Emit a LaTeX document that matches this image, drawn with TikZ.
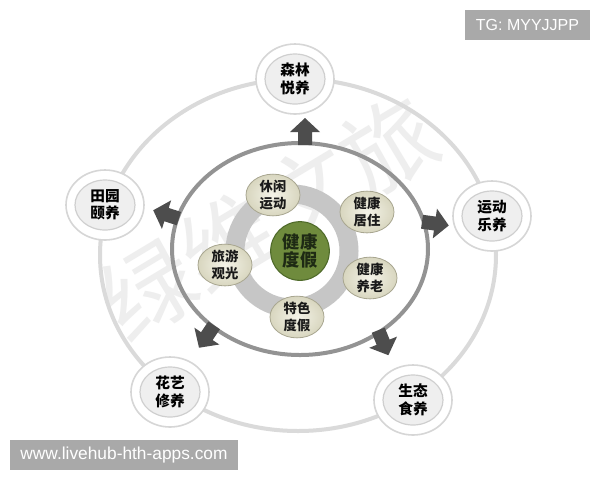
\documentclass[tikz,border=0pt]{standalone}
\usepackage{fontspec}
\setmainfont{Liberation Sans}
\newfontfamily\cjk{Noto Sans CJK SC}
\usetikzlibrary{shapes.geometric}
\definecolor{bigring}{HTML}{DADADA}
\definecolor{satline}{HTML}{D6D6D6}
\definecolor{satinline}{HTML}{CFCFCF}
\definecolor{satfill}{HTML}{EFEFEF}
\definecolor{midline}{HTML}{939393}
\definecolor{ringgray}{HTML}{C6C6C6}
\definecolor{leafline}{HTML}{A8A690}
\definecolor{leafin}{HTML}{F4F3E8}
\definecolor{leafout}{HTML}{D8D6BF}
\definecolor{leaftext}{HTML}{1A1A1A}
\definecolor{hubfill}{HTML}{6F8B3D}
\definecolor{hubline}{HTML}{4F6A2A}
\definecolor{hubtext}{HTML}{1E2A14}
\definecolor{arrowc}{HTML}{4D4D4D}
\definecolor{tagfill}{HTML}{A9A9A9}
\definecolor{wmark}{HTML}{EEEEEE}
\begin{document}
\begin{tikzpicture}[x=0.75pt,y=-0.75pt,
  satout/.style={ellipse, draw=satline, line width=1.2pt, fill=white, minimum width=58.5pt, minimum height=52.5pt, inner sep=0pt},
  satin/.style={ellipse, draw=satinline, line width=0.9pt, fill=satfill, minimum width=45pt, minimum height=37.5pt, inner sep=0pt, align=center, font=\cjk\bfseries\fontsize{11}{13}\selectfont},
  leaf/.style={ellipse, draw=leafline, line width=0.6pt, shading=radial, inner color=leafin, outer color=leafout, minimum width=40.5pt, minimum height=28.5pt, inner sep=0pt, align=center, font=\cjk\bfseries\fontsize{10}{12.5}\selectfont, text=leaftext},
  hub/.style={circle, draw=hubline, line width=0.8pt, fill=hubfill, minimum size=44pt, inner sep=0pt, align=center, font=\cjk\bfseries\fontsize{13}{14}\selectfont, text=hubtext},
  tag/.style={fill=tagfill, text=white, inner sep=0pt, minimum height=22.5pt},
  blockarr/.pic={\fill[arrowc] (-2,-7) -- (11,-7) -- (11,-15) -- (25,0) -- (11,15) -- (11,7) -- (-2,7) -- cycle;}
]
\useasboundingbox (0,0) rectangle (600,480);
\fill[white] (0,0) rectangle (600,480);
% watermark (faint, behind the diagram)
\node[rotate=31, font=\cjk\fontsize{70}{70}\selectfont, text=wmark] (wm) at (268,218) {绿维文旅};
% big outer ring
\draw[bigring, line width=3pt] (298,255) ellipse [x radius=148.5pt, y radius=132pt];
% satellites
\foreach \p/\n in {(295,79)/a,(492,216)/b,(413,400)/c,(170,392)/d,(105,205)/e}
  \node[satout] (o\n) at \p {};
\node[satin] (sa) at (295,79) {森林\\悦养};
\node[satin] (sb) at (492,216) {运动\\乐养};
\node[satin] (sc) at (413,400) {生态\\食养};
\node[satin] (sd) at (170,392) {花艺\\修养};
\node[satin] (se) at (105,205) {田园\\颐养};
% middle gray ellipse
\draw[midline, line width=3pt] (300,249) ellipse [x radius=96pt, y radius=79.5pt];
% block arrows
\pic[rotate=90] at (305,143) {blockarr};
\pic[rotate=-8] at (424,222) {blockarr};
\pic[rotate=-68] at (379,332) {blockarr};
\pic[rotate=-124] at (213,327) {blockarr};
\pic[rotate=162] at (177,218) {blockarr};
% inner thick ring
\draw[ringgray, line width=14.25pt] (292,251) circle [radius=42.75pt];
% hub
\node[hub] (hub) at (300,251) {健康\\度假};
% leaves
\node[leaf] (l1) at (273,195) {休闲\\运动};
\node[leaf] (l2) at (367,212) {健康\\居住};
\node[leaf] (l3) at (225,265) {旅游\\观光};
\node[leaf] (l4) at (370,278) {健康\\养老};
\node[leaf] (l5) at (297,317) {特色\\度假};
% tags
\node[tag, minimum width=93.75pt, font=\fontsize{12}{14}\selectfont] (tg) at (527.5,25) {TG: MYYJJPP};
\node[tag, minimum width=171pt, font=\fontsize{13}{15}\selectfont] (www) at (124,455) {www.livehub-hth-apps.com};
\end{tikzpicture}
\end{document}
